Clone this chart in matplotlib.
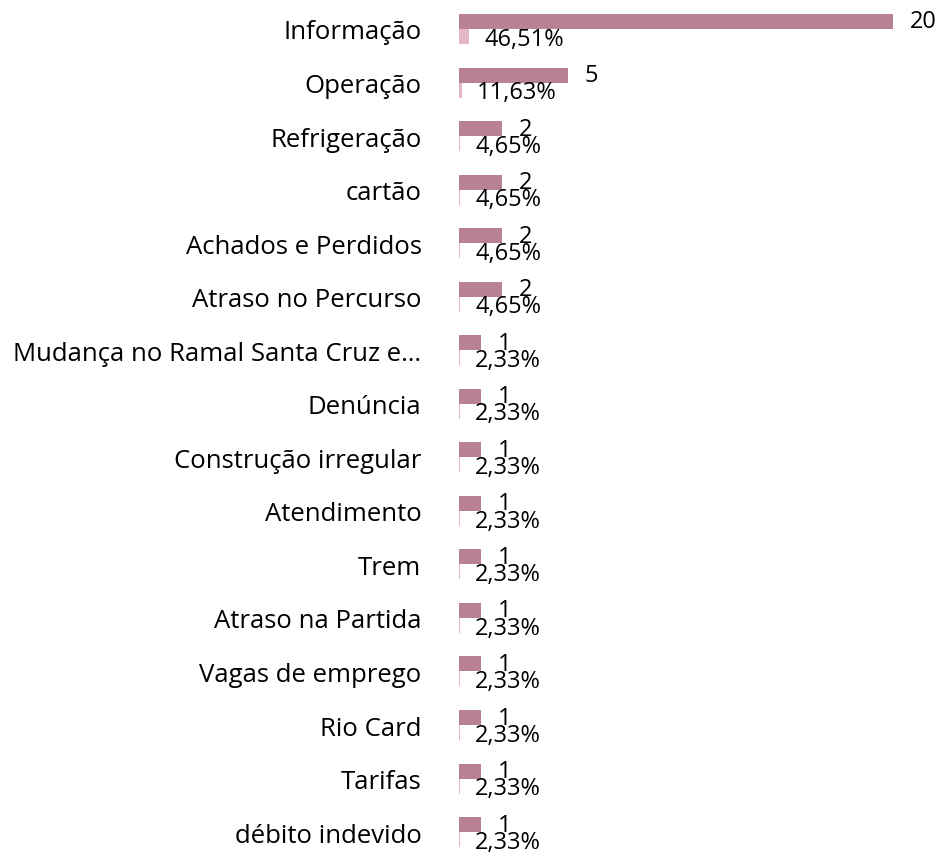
import matplotlib
matplotlib.use("Agg")
import matplotlib.pyplot as plt
import numpy as np

categories = ["Informação", "Operação", "Refrigeração", "cartão", "Achados e Perdidos",
              "Atraso no Percurso", "Mudança no Ramal Santa Cruz e…", "Denúncia",
              "Construção irregular", "Atendimento", "Trem", "Atraso na Partida",
              "Vagas de emprego", "Rio Card", "Tarifas", "débito indevido"]
counts = [20, 5, 2, 2, 2, 2, 1, 1, 1, 1, 1, 1, 1, 1, 1, 1]
percents = [0.4651, 0.1163, 0.0465, 0.0465, 0.0465, 0.0465, 0.0233, 0.0233, 0.0233,
            0.0233, 0.0233, 0.0233, 0.0233, 0.0233, 0.0233, 0.0233]
pct_labels = ["46,51%", "11,63%", "4,65%", "4,65%", "4,65%", "4,65%", "2,33%", "2,33%",
              "2,33%", "2,33%", "2,33%", "2,33%", "2,33%", "2,33%", "2,33%", "2,33%"]

plt.rcParams['font.family'] = ['Open Sans', 'DejaVu Sans']

W, H = 939, 854
fig = plt.figure(figsize=(W / 100, H / 100), dpi=100)
ax = fig.add_axes([459 / W, 0, 1 - 459 / W, 1])

y = np.arange(len(categories))
h = 0.28
dark = "#b98194"
light = "#e6b6c6"
ax.barh(y - h / 2, counts, height=h, color=dark)
ax.barh(y + h / 2, percents, height=h, color=light)

for yi, c, p, pl in zip(y, counts, percents, pct_labels):
    ax.annotate(str(c), (c, yi - h / 2), xytext=(12, 0), textcoords="offset points",
                va="center", ha="left", fontsize=17, color="black")
    ax.annotate(pl, (p, yi + h / 2 + 0.04), xytext=(11, 0), textcoords="offset points",
                va="center", ha="left", fontsize=17, color="black")

ax.set_xlim(0, 480 / 21.7)
ax.set_ylim(15.39, -0.56)
ax.set_yticks(y)
ax.set_yticklabels(categories, fontsize=18.5)
ax.tick_params(axis="y", length=0, pad=27)
ax.set_xticks([])
for s in ax.spines.values():
    s.set_visible(False)

fig.savefig("out.png", dpi=100)
